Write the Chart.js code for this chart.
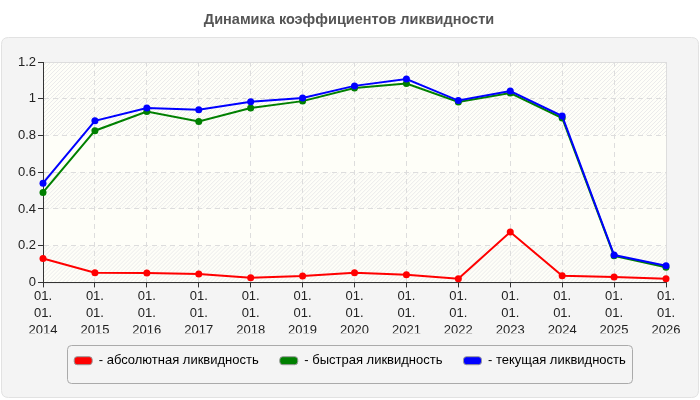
<!DOCTYPE html>
<html>
<head>
<meta charset="utf-8">
<script src="https://cdn.jsdelivr.net/npm/chart.js@4"></script>
<style>
  html, body { margin: 0; padding: 0; background: #fff; }
  #wrap { width: 700px; height: 400px; }
</style>
</head>
<body>
<div id="wrap"><canvas id="chart" width="700" height="400"></canvas></div>
<script>
// данные графика
const years = ['2014', '2015', '2016', '2017', '2018', '2019', '2020', '2021', '2022', '2023', '2024', '2025', '2026'];
const absoluteLiq = [0.13, 0.053, 0.051, 0.046, 0.025, 0.035, 0.053, 0.041, 0.02, 0.274, 0.036, 0.029, 0.02];
const quickLiq = [0.49, 0.826, 0.93, 0.876, 0.95, 0.987, 1.058, 1.083, 0.982, 1.031, 0.895, 0.145, 0.083];
const currentLiq = [0.54, 0.88, 0.95, 0.94, 0.984, 1.004, 1.07, 1.107, 0.99, 1.042, 0.906, 0.149, 0.091];
const yTicks = [0, 0.2, 0.4, 0.6, 0.8, 1, 1.2];
const seriesNames = ['абсолютная ликвидность', 'быстрая ликвидность', 'текущая ликвидность'];
const seriesColors = ['#ff0000', '#008000', '#0000ff'];

const FONT = '"Liberation Sans", Arial, sans-serif';
const chartTitle = 'Динамика коэффициентов ликвидности';

// подписи оси X в три строки
const xLabels = years.map(y => ['01.', '01.', y]);

function roundRect(ctx, x, y, w, h, r) {
    ctx.beginPath();
    ctx.moveTo(x + r, y);
    ctx.lineTo(x + w - r, y);
    ctx.quadraticCurveTo(x + w, y, x + w, y + r);
    ctx.lineTo(x + w, y + h - r);
    ctx.quadraticCurveTo(x + w, y + h, x + w - r, y + h);
    ctx.lineTo(x + r, y + h);
    ctx.quadraticCurveTo(x, y + h, x, y + h - r);
    ctx.lineTo(x, y + r);
    ctx.quadraticCurveTo(x, y, x + r, y);
    ctx.closePath();
}

// фон, панель, заголовок, штриховка области графика
const decor = {
    id: 'decor',
    beforeDraw(chart) {
        const ctx = chart.ctx;
        const a = chart.chartArea;
        const ys = chart.scales.y;
        ctx.save();
        ctx.fillStyle = '#fff';
        ctx.fillRect(0, 0, chart.width, chart.height);

        roundRect(ctx, 1.5, 37.5, 697, 360, 7);
        ctx.fillStyle = '#f4f4f4';
        ctx.fill();
        ctx.strokeStyle = '#e2e2e2';
        ctx.lineWidth = 1;
        ctx.stroke();

        ctx.fillStyle = '#555';
        ctx.font = 'bold 14.5px ' + FONT;
        ctx.textAlign = 'center';
        ctx.textBaseline = 'middle';
        ctx.fillText(chartTitle, 349, 20);

        ctx.fillStyle = '#fefef8';
        ctx.fillRect(a.left, a.top, a.right - a.left, a.bottom - a.top);

        // штриховка полос
        const bands = [[0, 0.2], [0.4, 0.6], [0.8, 1.2]];
        bands.forEach(b => {
            const top = ys.getPixelForValue(b[1]);
            const bot = ys.getPixelForValue(b[0]);
            ctx.save();
            ctx.beginPath();
            ctx.rect(a.left, top, a.right - a.left, bot - top);
            ctx.clip();
            ctx.strokeStyle = '#ebebeb';
            ctx.lineWidth = 1;
            ctx.beginPath();
            for (let x = a.left - (bot - top); x < a.right + 5; x += 4) {
                ctx.moveTo(x, bot);
                ctx.lineTo(x + (bot - top), top);
            }
            ctx.stroke();
            ctx.restore();
        });

        ctx.strokeStyle = '#dddddd';
        ctx.strokeRect(a.left + 0.5, a.top + 0.5, a.right - a.left, a.bottom - a.top);

        // рамка легенды
        roundRect(ctx, 67.5, 345.5, 565, 38, 4);
        ctx.strokeStyle = '#aaaaaa';
        ctx.stroke();
        ctx.restore();
    }
};

const ctx = document.getElementById('chart').getContext('2d');
window.myChart = new Chart(ctx, {
    type: 'line',
    data: {
        labels: xLabels,
        datasets: [absoluteLiq, quickLiq, currentLiq].map((d, i) => ({
            label: seriesNames[i],
            data: d,
            borderColor: seriesColors[i],
            backgroundColor: seriesColors[i],
            borderWidth: 2,
            pointRadius: 3.5,
            pointBorderWidth: 0,
            tension: 0,
            clip: false,
            order: 2 - i
        }))
    },
    options: {
        responsive: false,
        animation: false,
        layout: { padding: { left: 0, right: 0, top: 62, bottom: 22.8 } },
        plugins: {
            title: { display: false },
            tooltip: { enabled: false },
            legend: {
                position: 'bottom',
                labels: {
                    boxWidth: 18,
                    boxHeight: 8,
                    padding: 21,
                    color: '#333',
                    font: { family: FONT, size: 13 },
                    useBorderRadius: true,
                    borderRadius: 3,
                    generateLabels(chart) {
                        return chart.data.datasets.map((ds, i) => ({
                            text: '- ' + ds.label,
                            fillStyle: ds.borderColor,
                            strokeStyle: '#999',
                            lineWidth: 1,
                            borderRadius: 3,
                            datasetIndex: i,
                            hidden: false
                        }));
                    }
                }
            }
        },
        scales: {
            x: {
                type: 'category',
                offset: false,
                grid: {
                    color: '#dddddd',
                    tickBorderDash: [],
                    tickColor: '#333',
                    tickLength: 5
                },
                border: { color: '#333', width: 1, dash: [5, 4] },
                ticks: {
                    color: '#222',
                    font: { family: FONT, size: 13, lineHeight: 1.3 },
                    padding: 1,
                    maxRotation: 0,
                    autoSkip: false
                },
                afterFit(scale) { scale.height = 50.8; }
            },
            y: {
                min: 0,
                max: 1.2,
                afterBuildTicks(scale) { scale.ticks = yTicks.map(v => ({ value: v })); },
                grid: {
                    color: '#dddddd',
                    tickBorderDash: [],
                    tickColor: '#333',
                    tickLength: 5
                },
                border: { color: '#333', width: 1, dash: [5, 4] },
                ticks: {
                    color: '#222',
                    font: { family: FONT, size: 13 },
                    padding: 2,
                    callback: v => String(+v.toFixed(1))
                },
                afterFit(scale) { scale.width = 43; }
            },
            // пустая правая ось: отступ справа от области графика
            yRight: {
                position: 'right',
                min: 0,
                max: 1.2,
                grid: { display: false },
                border: { display: false },
                ticks: { display: false },
                afterFit(scale) { scale.width = 34; }
            }
        }
    },
    plugins: [decor]
});
</script>
</body>
</html>
